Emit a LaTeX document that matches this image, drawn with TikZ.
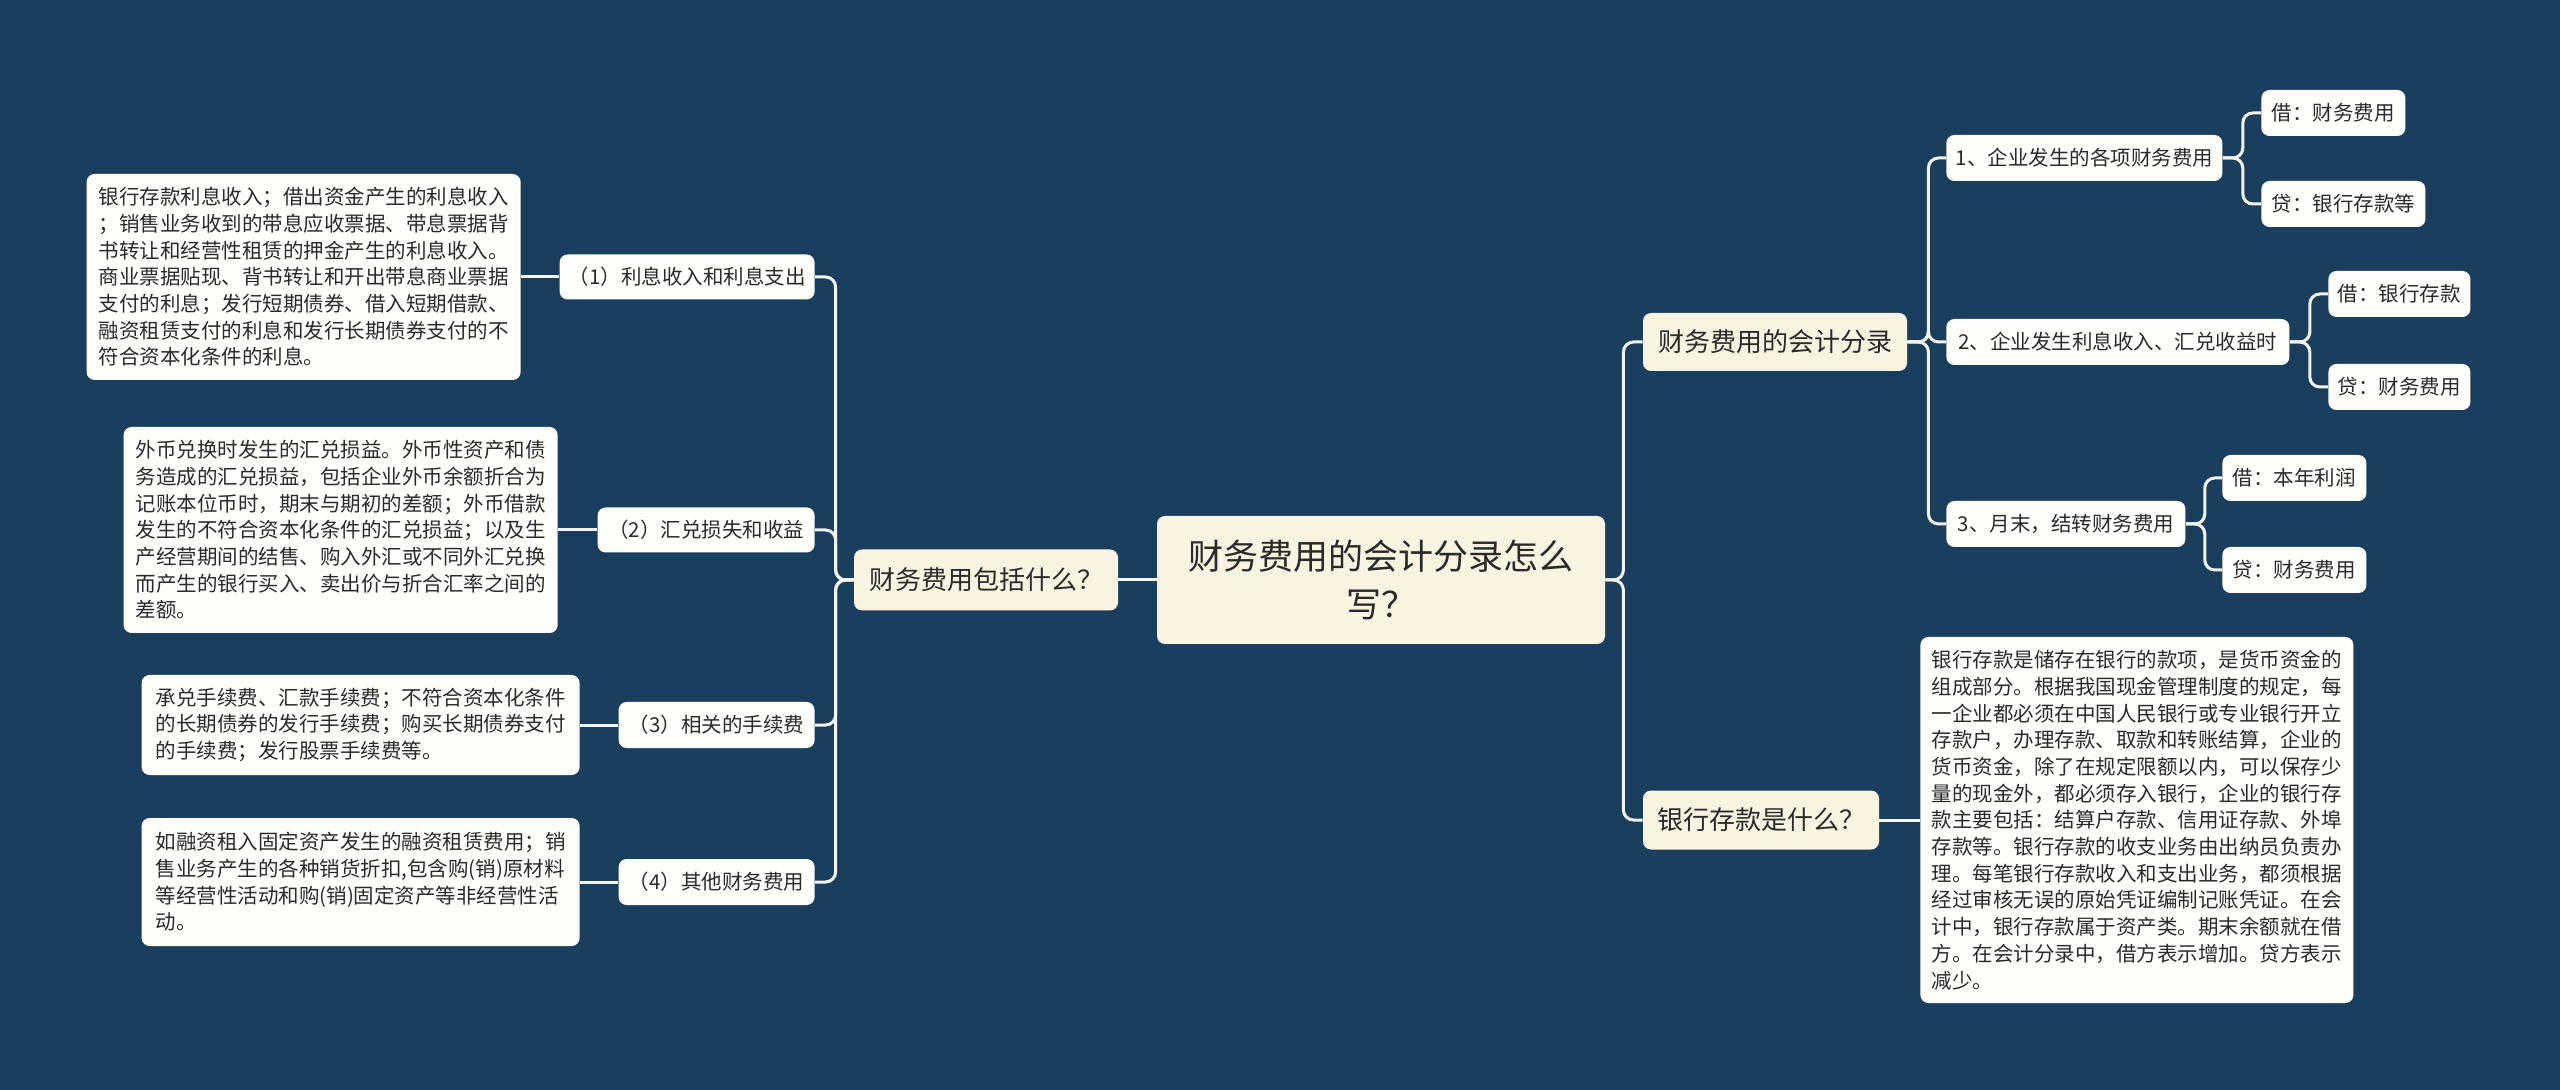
\documentclass[tikz,border=0pt]{standalone}
\usepackage{fontspec}
\setmainfont{Noto Sans CJK SC}
\definecolor{bgc}{HTML}{1A3E5E}
\definecolor{creamc}{HTML}{F8F4E1}
\definecolor{whitec}{HTML}{FEFEFA}
\definecolor{txtc}{HTML}{2A2A2A}
\definecolor{linec}{HTML}{F4F4EE}
\tikzset{
  boxbase/.style={rounded corners=4pt, inner sep=0pt, text=txtc},
  rootbox/.style={boxbase, fill=creamc, align=center, font=\fontsize{17.5pt}{24pt}\selectfont},
  mainbox/.style={boxbase, fill=creamc, font=\fontsize{13pt}{16pt}\selectfont},
  subbox/.style={boxbase, fill=whitec, font=\fontsize{10.25pt}{13pt}\selectfont},
  textbox/.style={boxbase, fill=whitec, align=left, font=\fontsize{10.25pt}{13.35pt}\selectfont},
  conn/.style={draw=linec, line width=1.5pt, rounded corners=5pt}
}
\begin{document}
\begin{tikzpicture}[x=0.5pt,y=-0.5pt]
\useasboundingbox (0,0) rectangle (2560,1090);
\fill[bgc] (0,0) rectangle (2560,1090);

% root
\node[rootbox, minimum width=224pt, minimum height=64pt] (root) at (1381,580) {财务费用的会计分录怎么\\写？};

% level 1
\node[mainbox, minimum width=132pt, minimum height=30.5pt] (incl) at (986,580) {财务费用包括什么？};
\node[mainbox, minimum width=132pt, minimum height=29pt] (entry) at (1775,342) {财务费用的会计分录};
\node[mainbox, minimum width=118pt, minimum height=29.5pt] (bankq) at (1761,820) {银行存款是什么？};

% left level 2
\node[subbox, minimum width=127.5pt, minimum height=22.5pt, anchor=east] (a1) at (815,277) {（1）利息收入和利息支出};
\node[subbox, minimum width=108.5pt, minimum height=22.5pt, anchor=east] (a2) at (815,530) {（2）汇兑损失和收益};
\node[subbox, minimum width=98pt, minimum height=23pt, anchor=east] (a3) at (815,725) {（3）相关的手续费};
\node[subbox, minimum width=98pt, minimum height=23pt, anchor=east] (a4) at (815,882) {（4）其他财务费用};

% left level 3
\node[textbox, minimum width=217pt, minimum height=103pt, anchor=east] (t1) at (521,277) {银行存款利息收入；借出资金产生的利息收入\\；销售业务收到的带息应收票据、带息票据背\\书转让和经营性租赁的押金产生的利息收入。\\商业票据贴现、背书转让和开出带息商业票据\\支付的利息；发行短期债券、借入短期借款、\\融资租赁支付的利息和发行长期债券支付的不\\符合资本化条件的利息。};
\node[textbox, minimum width=217pt, minimum height=103pt, anchor=east] (t2) at (558,530) {外币兑换时发生的汇兑损益。外币性资产和债\\务造成的汇兑损益，包括企业外币余额折合为\\记账本位币时，期末与期初的差额；外币借款\\发生的不符合资本化条件的汇兑损益；以及生\\产经营期间的结售、购入外汇或不同外汇兑换\\而产生的银行买入、卖出价与折合汇率之间的\\差额。};
\node[textbox, minimum width=219pt, minimum height=50pt, anchor=east] (t3) at (580,725) {承兑手续费、汇款手续费；不符合资本化条件\\的长期债券的发行手续费；购买长期债券支付\\的手续费；发行股票手续费等。};
\node[textbox, minimum width=219pt, minimum height=64pt, anchor=east] (t4) at (580,882) {如融资租入固定资产发生的融资租赁费用；销\\售业务产生的各种销货折扣,包含购(销)原材料\\等经营性活动和购(销)固定资产等非经营性活\\动。};

% right level 2
\node[subbox, minimum width=138pt, minimum height=23pt, anchor=west] (c1) at (1946,158) {1、企业发生的各项财务费用};
\node[subbox, minimum width=171.5pt, minimum height=23pt, anchor=west] (c2) at (1946,342) {2、企业发生利息收入、汇兑收益时};
\node[subbox, minimum width=119.5pt, minimum height=23pt, anchor=west] (c3) at (1946,524) {3、月末，结转财务费用};

% right level 3
\node[subbox, minimum width=72pt, minimum height=23pt, anchor=west] (d11) at (2261,113) {借：财务费用};
\node[subbox, minimum width=82pt, minimum height=23pt, anchor=west] (d12) at (2261,204) {贷：银行存款等};
\node[subbox, minimum width=71pt, minimum height=23pt, anchor=west] (d21) at (2328,294) {借：银行存款};
\node[subbox, minimum width=71pt, minimum height=23pt, anchor=west] (d22) at (2328,387) {贷：财务费用};
\node[subbox, minimum width=72pt, minimum height=23pt, anchor=west] (d31) at (2222,478) {借：本年利润};
\node[subbox, minimum width=72pt, minimum height=23pt, anchor=west] (d32) at (2222,570) {贷：财务费用};

\node[textbox, minimum width=216.5pt, minimum height=183pt, anchor=west] (bank) at (1920,820) {银行存款是储存在银行的款项，是货币资金的\\组成部分。根据我国现金管理制度的规定，每\\一企业都必须在中国人民银行或专业银行开立\\存款户，办理存款、取款和转账结算，企业的\\货币资金，除了在规定限额以内，可以保存少\\量的现金外，都必须存入银行，企业的银行存\\款主要包括：结算户存款、信用证存款、外埠\\存款等。银行存款的收支业务由出纳员负责办\\理。每笔银行存款收入和支出业务，都须根据\\经过审核无误的原始凭证编制记账凭证。在会\\计中，银行存款属于资产类。期末余额就在借\\方。在会计分录中，借方表示增加。贷方表示\\减少。};

% connectors
\draw[conn] (root.west) -- (incl.east);
\draw[conn] (root.east) -- ++(18,0) |- (entry.west);
\draw[conn] (root.east) -- ++(18,0) |- (bankq.west);

\foreach \c in {a1,a2,a3,a4}
  \draw[conn] (incl.west) -- ++(-18,0) |- (\c.east);
\draw[conn] (a1.west) -- (t1.east);
\draw[conn] (a2.west) -- (t2.east);
\draw[conn] (a3.west) -- (t3.east);
\draw[conn] (a4.west) -- (t4.east);

\foreach \c in {c1,c2,c3}
  \draw[conn] (entry.east) -- ++(21,0) |- (\c.west);
\draw[conn] (c1.east) -- ++(20,0) |- (d11.west);
\draw[conn] (c1.east) -- ++(20,0) |- (d12.west);
\draw[conn] (c2.east) -- ++(20,0) |- (d21.west);
\draw[conn] (c2.east) -- ++(20,0) |- (d22.west);
\draw[conn] (c3.east) -- ++(19,0) |- (d31.west);
\draw[conn] (c3.east) -- ++(19,0) |- (d32.west);
\draw[conn] (bankq.east) -- (bank.west);
\end{tikzpicture}
\end{document}
